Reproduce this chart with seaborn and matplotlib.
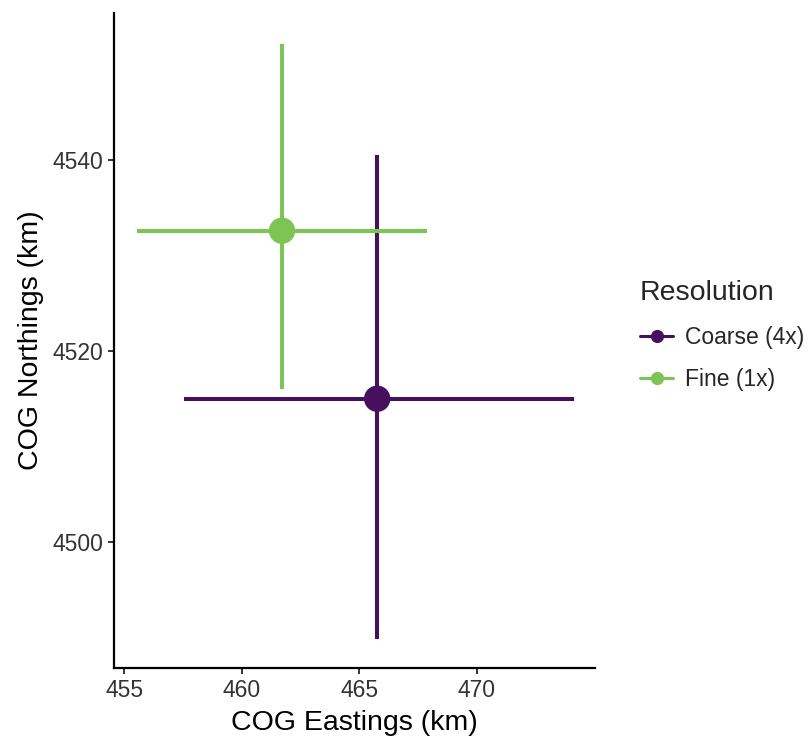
import matplotlib
matplotlib.use("Agg")
import matplotlib.pyplot as plt
from matplotlib.lines import Line2D
import seaborn as sns
import pandas as pd

# Centre of gravity estimates with their spread, by resolution
resolution = ["Coarse (4x)", "Fine (1x)"]
east_mean = [465.77, 461.72]
east_low = [457.55, 455.55]
east_high = [474.15, 467.90]
north_mean = [4515.0, 4532.6]
north_low = [4489.8, 4516.0]
north_high = [4540.5, 4552.1]

palette = {"Coarse (4x)": "#46105E", "Fine (1x)": "#7CC554"}

df = pd.DataFrame({
    "Resolution": resolution,
    "east": east_mean, "east_lo": east_low, "east_hi": east_high,
    "north": north_mean, "north_lo": north_low, "north_hi": north_high,
})

sns.set_theme(style="ticks")
plt.rcParams["font.family"] = ["Liberation Sans", "DejaVu Sans"]

fig = plt.figure(figsize=(8.12, 7.38), dpi=100)
ax = fig.add_axes([0.1404, 0.0949, 0.5924, 0.8875])

for _, r in df.iterrows():
    c = palette[r["Resolution"]]
    ax.hlines(r["north"], r["east_lo"], r["east_hi"], color=c, lw=2.9, zorder=2)
    ax.vlines(r["east"], r["north_lo"], r["north_hi"], color=c, lw=2.9, zorder=2)

sns.scatterplot(data=df, x="east", y="north", hue="Resolution", palette=palette,
                s=360, edgecolor="none", legend=False, ax=ax, zorder=3)

ax.set_xlim(454.57, 475.04)
ax.set_ylim(4486.8, 4555.4)
ax.set_xticks([455, 460, 465, 470])
ax.set_yticks([4500, 4520, 4540])
ax.set_xlabel("COG Eastings (km)", fontsize=20.5, color="black", labelpad=6)
ax.set_ylabel("COG Northings (km)", fontsize=20.5, color="black", labelpad=6)
ax.tick_params(axis="both", labelsize=16.5, labelcolor="#333333", color="#333333",
               length=4, width=1.4, pad=4)
for s in ["top", "right"]:
    ax.spines[s].set_visible(False)
for s in ["left", "bottom"]:
    ax.spines[s].set_color("black")
    ax.spines[s].set_linewidth(1.6)

handles = [Line2D([0], [0], color=palette[k], lw=2.2, marker="o", markersize=9.5,
                  markeredgewidth=0) for k in resolution]
leg = fig.legend(handles, resolution, title="Resolution", loc="center left",
                 bbox_to_anchor=(0.777, 0.545), frameon=False, fontsize=16.5,
                 title_fontsize=20.5, handlelength=1.45, handletextpad=0.5,
                 labelspacing=0.85, borderaxespad=0)
leg._legend_box.align = "left"

fig.savefig("out.png", dpi=100, facecolor="white")
